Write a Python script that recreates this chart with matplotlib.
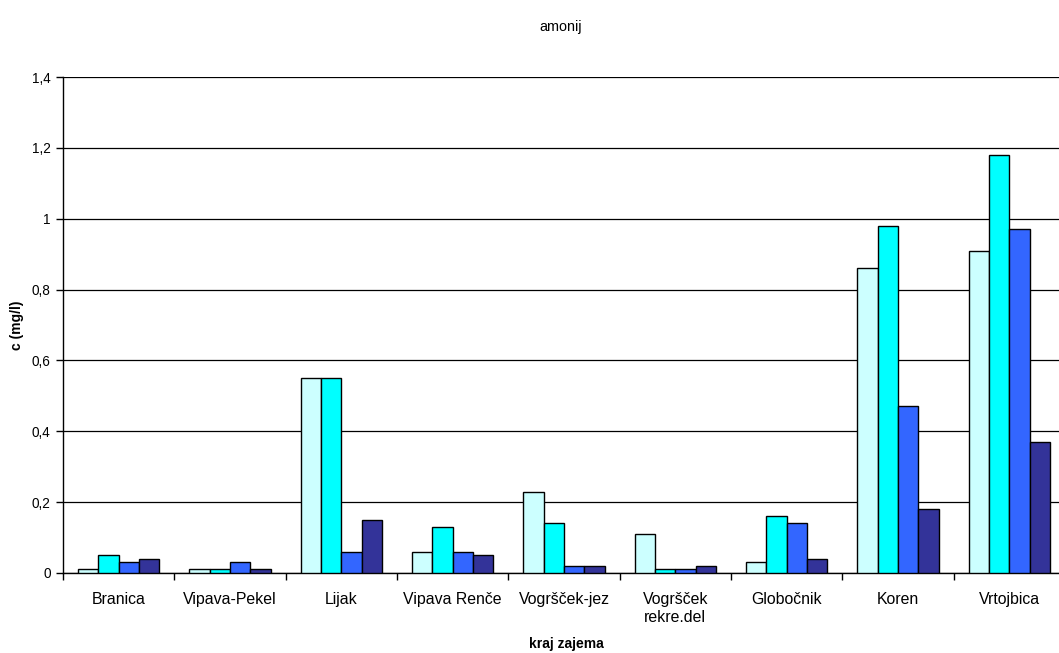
import matplotlib
matplotlib.use("Agg")
import matplotlib.pyplot as plt
import numpy as np

plt.rcParams['font.family'] = ['Liberation Sans', 'DejaVu Sans']

categories = ["Branica", "Vipava-Pekel", "Lijak", "Vipava Renče", "Vogršček-jez",
              "Vogršček\nrekre.del", "Globočnik", "Koren", "Vrtojbica"]
series_1 = [0.01, 0.01, 0.55, 0.06, 0.23, 0.11, 0.03, 0.86, 0.91]
series_2 = [0.05, 0.01, 0.55, 0.13, 0.14, 0.01, 0.16, 0.98, 1.18]
series_3 = [0.03, 0.03, 0.06, 0.06, 0.02, 0.01, 0.14, 0.47, 0.97]
series_4 = [0.04, 0.01, 0.15, 0.05, 0.02, 0.02, 0.04, 0.18, 0.37]
y_ticks = [0, 0.2, 0.4, 0.6, 0.8, 1.0, 1.2, 1.4]
y_tick_labels = ["0", "0,2", "0,4", "0,6", "0,8", "1", "1,2", "1,4"]

colors = ["#CCFFFF", "#00FFFF", "#3366FF", "#333399"]

fig = plt.figure(figsize=(10.59, 6.53), dpi=100)
ax = fig.add_axes([63 / 1059, 1 - 573 / 653, 1002 / 1059, (573 - 77) / 653])

x = np.arange(len(categories))
w = 0.182
for i, (vals, c) in enumerate(zip([series_1, series_2, series_3, series_4], colors)):
    ax.bar(x + (i - 1.5) * w, vals, width=w, color=c, edgecolor="black",
           linewidth=1.0, zorder=3)

ax.set_xlim(-0.5, len(categories) - 0.5)
ax.set_ylim(0, 1.4)
ax.set_yticks(y_ticks)
ax.set_yticklabels(y_tick_labels, fontsize=9.8)
ax.yaxis.grid(True, color="black", linewidth=0.9, zorder=0)
ax.set_axisbelow(True)

ax.set_xticks(x)
ax.set_xticklabels(categories, fontsize=11.4, linespacing=1.25)
ax.set_xticks(np.arange(len(categories) + 1) - 0.5, minor=True)
ax.tick_params(axis="x", which="major", length=0, pad=14)
ax.tick_params(axis="x", which="minor", length=5, width=1, color="black")
ax.tick_params(axis="y", length=5, width=1, color="black", pad=4)

for s in ["top", "right"]:
    ax.spines[s].set_visible(False)
for s in ["left", "bottom"]:
    ax.spines[s].set_color("black")
    ax.spines[s].set_linewidth(1.0)

fig.text(17 / 1059, 1 - 325 / 653, "c (mg/l)", rotation=90, ha="center", va="center",
         fontsize=10, fontweight="bold")
fig.text(566 / 1059, 1 - 644 / 653, "kraj zajema", ha="center", va="center",
         fontsize=10, fontweight="bold")
fig.text(561 / 1059, 1 - 27 / 653, "amonij", ha="center", va="center", fontsize=10.4)

fig.savefig("out.png", dpi=100)
